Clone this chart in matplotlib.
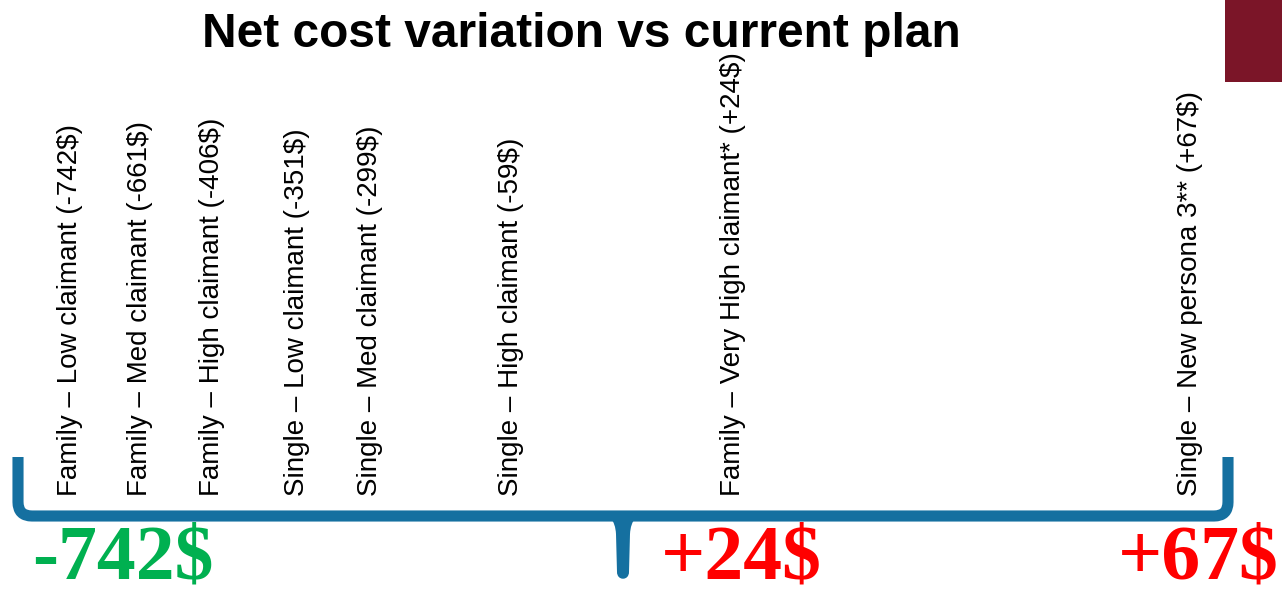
import matplotlib
matplotlib.use("Agg")
import matplotlib.pyplot as plt
from matplotlib.path import Path
from matplotlib.patches import PathPatch, Rectangle

# personas and their net cost change vs the current plan ($)
personas = [
    "Family – Low claimant",
    "Family – Med claimant",
    "Family – High claimant",
    "Single – Low claimant",
    "Single – Med claimant",
    "Single – High claimant",
    "Family – Very High claimant*",
    "Single – New persona 3**",
]
net_cost = [-742, -661, -406, -351, -299, -59, 24, 67]

# headline figures shown under the brace
summary_values = [-742, 24, 67]

# layout (pixel coordinates of the 1282x589 canvas)
label_x = [70, 140, 212, 297, 370, 511, 733, 1190]
label_bottom = 496
summary_x = [32, 661, 1279]
summary_ha = ["left", "left", "right"]

BLUE = "#1570a0"
GREEN = "#00b050"
RED = "#ff0000"
MAROON = "#7b1528"

W, H = 1282, 589
fig = plt.figure(figsize=(W / 100, H / 100), dpi=100)
ax = fig.add_axes([0, 0, 1, 1])
ax.set_xlim(0, W)
ax.set_ylim(H, 0)
ax.axis("off")

ax.text(581, 47, "Net cost variation vs current plan", ha="center", va="baseline",
        fontsize=34.5, fontweight="bold", family="Liberation Sans")

ax.add_patch(Rectangle((1225, 0), 57, 82, color=MAROON, lw=0))

for name, val, x in zip(personas, net_cost, label_x):
    ax.text(x, label_bottom, f"{name} ({val:+d}$)", rotation=90, ha="center",
            va="bottom", fontsize=20, family="Liberation Sans")

# brace: outer stroke with rounded corners
stroke = Path(
    [(18, 457), (18, 502), (18, 516), (32, 516), (1214, 516), (1228, 516), (1228, 502), (1228, 457)],
    [Path.MOVETO, Path.LINETO, Path.CURVE3, Path.CURVE3, Path.LINETO, Path.CURVE3, Path.CURVE3, Path.LINETO],
)
ax.add_patch(PathPatch(stroke, fc="none", ec=BLUE, lw=8, capstyle="butt", joinstyle="round"))

# brace: tapered middle point
spike = Path(
    [(596, 512), (615, 513), (616, 534), (617, 572), (617, 581), (629, 581), (629, 572),
     (630, 534), (631, 513), (650, 512), (596, 512)],
    [Path.MOVETO, Path.CURVE3, Path.CURVE3, Path.LINETO, Path.CURVE4, Path.CURVE4, Path.CURVE4,
     Path.LINETO, Path.CURVE3, Path.CURVE3, Path.CLOSEPOLY],
)
ax.add_patch(PathPatch(spike, fc=BLUE, ec="none"))

for val, x, ha in zip(summary_values, summary_x, summary_ha):
    color = GREEN if val < 0 else RED
    ax.text(x, 578, f"{val:+d}$", ha=ha, va="baseline", color=color, fontsize=56,
            fontweight="bold", family="Liberation Serif")

fig.savefig("out.png", dpi=100)
